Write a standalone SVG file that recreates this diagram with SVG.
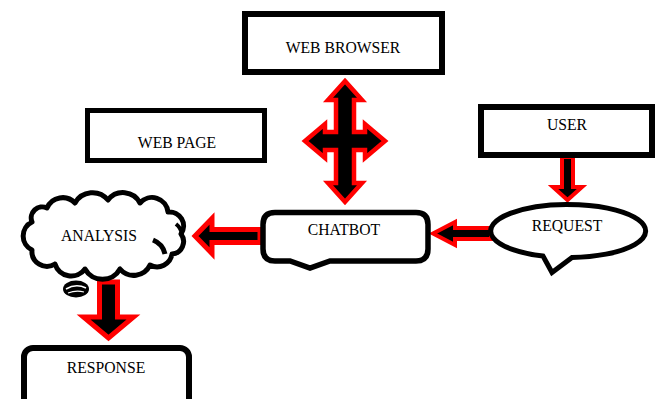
<svg xmlns="http://www.w3.org/2000/svg" width="660" height="399" viewBox="0 0 660 399">
<style>
.box{fill:#fff;stroke:#000}
.lbl{font-family:"Liberation Serif","Times New Roman",serif;font-size:15.7px;fill:#000;text-anchor:middle}
.arr{fill:#000;stroke:#f00;stroke-linejoin:miter}
</style>
<rect width="660" height="399" fill="#fff"/>
<g id="connectors">
<path class="arr" stroke-width="4.5" d="M345,81 L362,100 H354 V132 H365 V124 L385,141 L365,158 V150 H354 V183 H362 L345,202 L328,183 H336 V150 H325 V158 L305,141 L325,124 V132 H336 V100 H328 Z"/>
<path class="arr" stroke-width="4" d="M562,157 H573 V187 H582 L567.5,200 L553,187 H562 Z"/>
<path class="arr" stroke-width="4" d="M491,228 H455 V222 L433,233.5 L455,245 V239 H491 Z"/>
<path class="arr" stroke-width="5" d="M260,229.5 H212 V218.5 L195,236 L212,253.5 V242.5 H260 Z"/>
<path class="arr" stroke-width="5" d="M99.5,282 H117.5 V317 H133.5 L108.5,338 L83.5,317 H99.5 Z"/>
</g>
<g id="web-browser">
<rect class="box" x="245" y="14" width="197" height="58" stroke-width="6"/>
<text class="lbl" x="343" y="53">WEB BROWSER</text>
</g>
<g id="web-page">
<rect class="box" x="87.5" y="110.5" width="177" height="50" stroke-width="5"/>
<text class="lbl" x="177" y="148">WEB PAGE</text>
</g>
<g id="user">
<rect class="box" x="481" y="107" width="171" height="48" stroke-width="6"/>
<text class="lbl" x="567" y="130">USER</text>
</g>
<g id="request">
<path class="box" stroke-width="5" stroke-linejoin="miter" d="M572,257.5 L552,272.5 L543,256.1 A77.5,26.5 0 1 1 572,257.5 Z"/>
<text class="lbl" x="567" y="231">REQUEST</text>
</g>
<g id="chatbot">
<path class="box" stroke-width="5.5" d="M275,212.5 H416 Q428,212.5 428,224.5 V249 Q428,261 416,261 H330 L310,268 L290,261 H275 Q263,261 263,249 V224.5 Q263,212.5 275,212.5 Z"/>
<text class="lbl" x="344" y="235">CHATBOT</text>
</g>
<g id="analysis">
<path class="box" stroke-width="5" stroke-linejoin="round" d="M32,222 A11,11 0 0 1 47,208 A17,17 0 0 1 75,203 A20,20 0 0 1 108,200 A19,19 0 0 1 140,203 A16,16 0 0 1 168,212 A14,14 0 0 1 181,234 A12.5,12.5 0 0 1 172,254 A15,15 0 0 1 150,265 A18,18 0 0 1 120,269 A20,20 0 0 1 85,269 A17,17 0 0 1 55,264 A15,15 0 0 1 32,250 A15.5,15.5 0 0 1 32,222 Z"/>
<path d="M153,240 Q163,244 165,254" fill="none" stroke="#000" stroke-width="5"/>
<path d="M176,224 Q181,228 182,234" fill="none" stroke="#000" stroke-width="4"/>
<ellipse cx="76" cy="289" rx="13" ry="8.5" fill="#000"/>
<path d="M66,289 Q76,283 86,288" fill="none" stroke="#fff" stroke-width="1.5"/>
<path d="M68,293 Q76,290 84,292" fill="none" stroke="#fff" stroke-width="1.2"/>
<text class="lbl" x="99" y="241">ANALYSIS</text>
</g>
<g id="response">
<rect class="box" x="24" y="348" width="165" height="60" rx="9" stroke-width="6"/>
<text class="lbl" x="106" y="373">RESPONSE</text>
</g>
</svg>
